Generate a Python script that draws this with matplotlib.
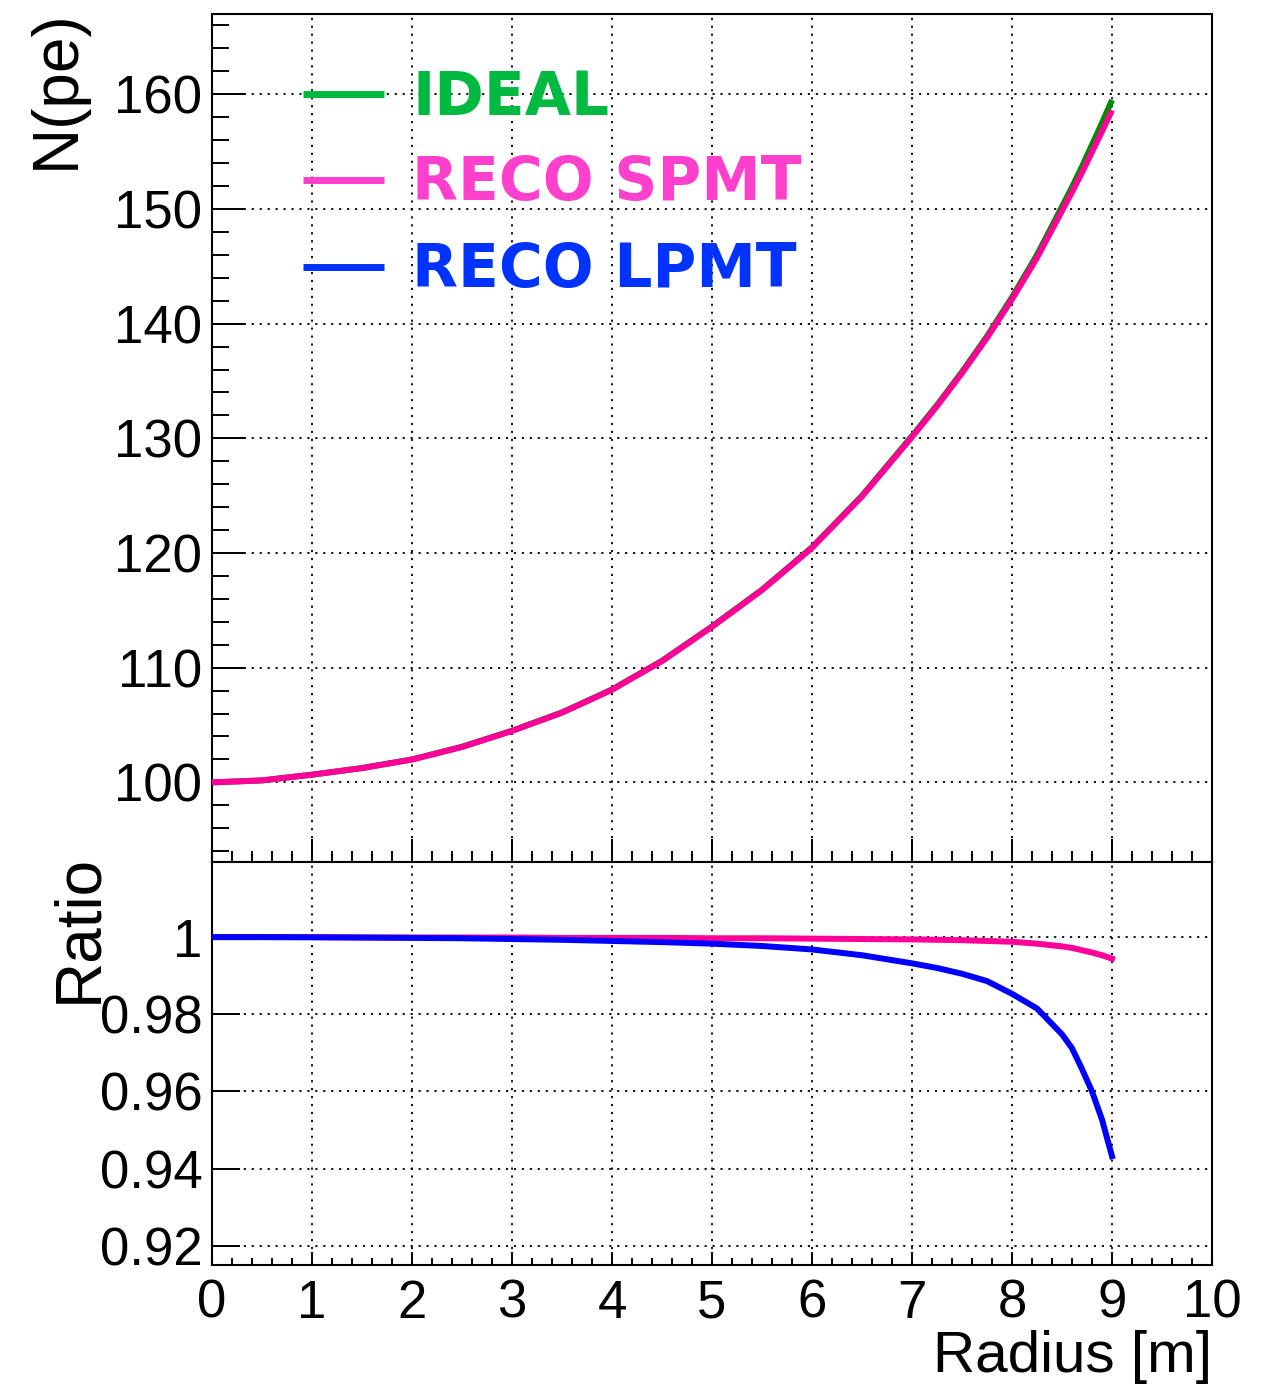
import numpy as np
import matplotlib
matplotlib.use("Agg")
import matplotlib.pyplot as plt
from matplotlib.lines import Line2D
from matplotlib.ticker import MultipleLocator, FixedLocator, FuncFormatter

plt.rcParams['font.family'] = ['Liberation Sans', 'DejaVu Sans']

# radius points [m]
radius = [0.0, 0.5, 1.0, 1.5, 2.0, 2.5, 3.0, 3.5, 4.0, 4.5, 5.0, 5.5, 6.0, 6.5,
          7.0, 7.25, 7.5, 7.75, 8.0, 8.25, 8.5, 8.6, 8.7, 8.8, 8.9, 9.0]
# expected number of photoelectrons
npe_ideal = [100.0, 100.17, 100.67, 101.25, 102.0, 103.1, 104.5, 106.1, 108.1,
             110.6, 113.6, 116.8, 120.5, 125.0, 130.2, 132.9, 135.8, 138.9,
             142.3, 146.0, 150.2, 151.9, 153.7, 155.6, 157.5, 159.5]
# reconstructed / ideal
ratio_spmt = [1.0, 1.0, 1.0, 0.9999, 0.9999, 0.9999, 0.9999, 0.9998, 0.9998,
              0.9998, 0.9997, 0.9997, 0.9996, 0.9995, 0.9994, 0.9993, 0.9992,
              0.9990, 0.9988, 0.9983, 0.9976, 0.9972, 0.9966, 0.9960, 0.9953,
              0.9944]
ratio_lpmt = [1.0, 1.0, 0.99995, 0.9999, 0.9998, 0.9997, 0.9995, 0.9993, 0.9990,
              0.9987, 0.9983, 0.9977, 0.9968, 0.9953, 0.9932, 0.9920, 0.9905,
              0.9886, 0.9853, 0.9815, 0.9748, 0.9712, 0.9658, 0.9600, 0.9527,
              0.9432]

labels = ['IDEAL', 'RECO SPMT', 'RECO LPMT']
line_colors = ['#008c00', '#ff0099', '#0000ff']
text_colors = ['#00b940', '#ff40cc', '#0033ff']

r = np.array(radius)
ideal = np.array(npe_ideal)
npe_spmt = ideal * np.array(ratio_spmt)

W, H = 1261, 1387
fig = plt.figure(figsize=(W / 100, H / 100), dpi=100)
left = 212 / W
width = 1000 / W
ax1 = fig.add_axes([left, (H - 861.5) / H, width, 847.5 / H])
ax2 = fig.add_axes([left, (H - 1265) / H, width, 403.5 / H])

grid_kw = dict(color='black', linestyle=(0, (1.2, 3.2)), linewidth=1.3)
lw = 4.3

# upper panel
ax1.plot(r, ideal, color=line_colors[0], lw=lw, solid_capstyle='butt', zorder=3)
ax1.plot(r, npe_spmt, color=line_colors[1], lw=lw, solid_capstyle='butt', zorder=4)
ax1.set_xlim(0, 10)
ax1.set_ylim(93.1, 167.0)
ax1.xaxis.set_major_locator(MultipleLocator(1))
ax1.xaxis.set_minor_locator(MultipleLocator(0.2))
ax1.yaxis.set_major_locator(MultipleLocator(10))
ax1.yaxis.set_minor_locator(MultipleLocator(2))
ax1.tick_params(axis='x', which='both', direction='in', top=False, labelbottom=False)
ax1.tick_params(axis='x', which='major', length=16.6, width=1.4)
ax1.tick_params(axis='x', which='minor', length=7.9, width=1.4)
ax1.tick_params(axis='y', which='both', direction='in', right=False, labelsize=38, pad=7)
ax1.tick_params(axis='y', which='major', length=23.8, width=1.4)
ax1.tick_params(axis='y', which='minor', length=12.2, width=1.4)
ax1.grid(True, which='major', **grid_kw)
ax1.set_ylabel('N(pe)', fontsize=46, loc='top')
ax1.yaxis.set_label_coords(-0.125, 1.006)

# legend drawn as lines plus coloured labels
line_rows = [0.9056, 0.8041, 0.7015]
text_rows = [0.8808, 0.7805, 0.6778]
for lab, lc, tc, yl, yt in zip(labels, text_colors, text_colors, line_rows, text_rows):
    ax1.add_line(Line2D([0.091, 0.172], [yl, yl], transform=ax1.transAxes,
                        color=lc, lw=5, solid_capstyle='butt', zorder=5))
    ax1.text(0.200, yt, lab, transform=ax1.transAxes, color=tc,
             fontsize=43, fontweight='bold', family='DejaVu Sans',
             va='baseline', ha='left', zorder=5)

# lower panel
ax2.plot(r, ratio_spmt, color=line_colors[1], lw=lw, zorder=3)
ax2.plot(r, ratio_lpmt, color=line_colors[2], lw=lw, zorder=4)
ax2.set_xlim(0, 10)
ax2.set_ylim(0.915, 1.0196)
ax2.xaxis.set_major_locator(MultipleLocator(1))
ax2.xaxis.set_minor_locator(MultipleLocator(0.2))
ax2.yaxis.set_major_locator(FixedLocator([0.92, 0.94, 0.96, 0.98, 1.0]))
ax2.yaxis.set_major_formatter(FuncFormatter(lambda v, p: '%g' % round(v, 2)))
ax2.tick_params(axis='x', which='both', direction='in', top=False, labelsize=38, pad=10)
ax2.tick_params(axis='x', which='major', length=9.4, width=1.4)
ax2.tick_params(axis='x', which='minor', length=5.0, width=1.4)
ax2.tick_params(axis='y', which='both', direction='in', right=False, labelsize=38, pad=7)
ax2.tick_params(axis='y', which='major', length=20.2, width=1.4)
ax2.grid(True, which='major', **grid_kw)
ax2.set_ylabel('Ratio', fontsize=46, loc='top')
ax2.yaxis.set_label_coords(-0.103, 1.02)
ax2.set_xlabel('Radius [m]', fontsize=42, loc='right')
ax2.xaxis.set_label_coords(1.0, -0.16)

for ax in (ax1, ax2):
    for s in ax.spines.values():
        s.set_linewidth(1.5)

fig.savefig('out.png', dpi=100)
